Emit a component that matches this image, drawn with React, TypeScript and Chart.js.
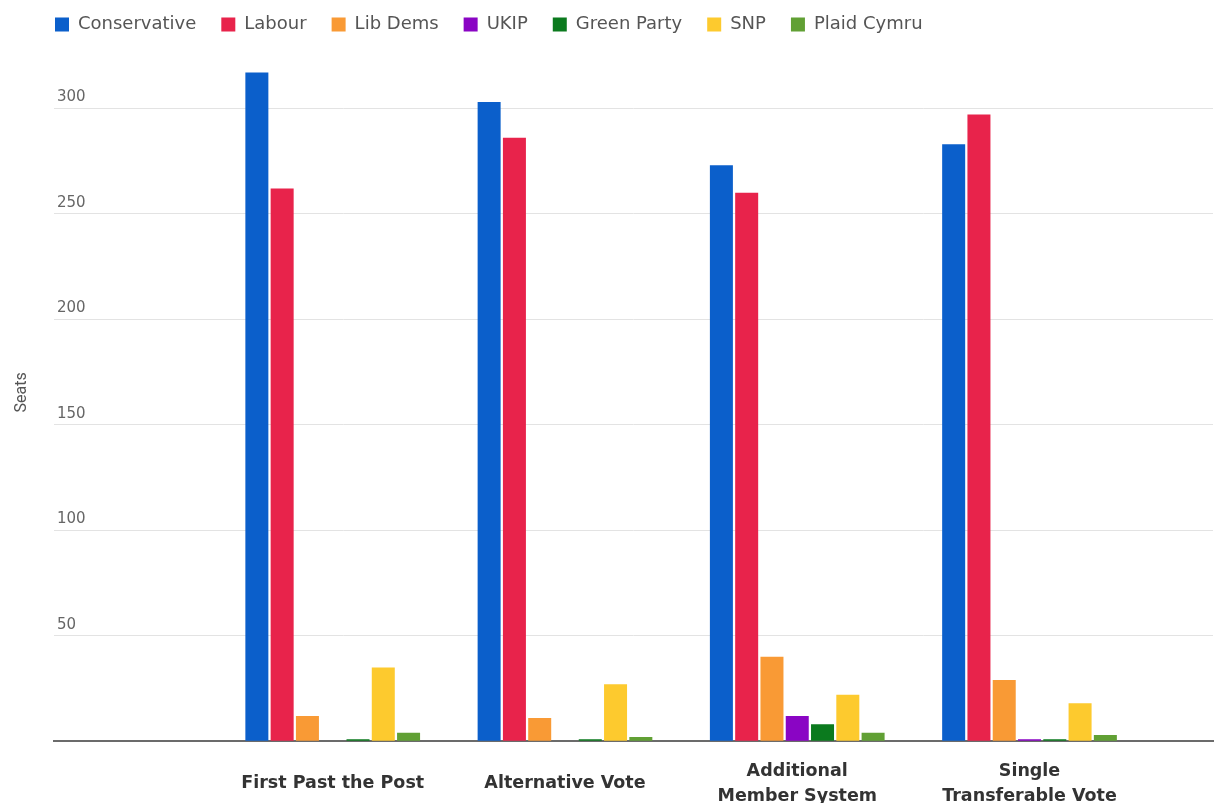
import React, { useEffect, useRef } from 'react';
import { Chart, registerables } from 'chart.js';

Chart.register(...registerables);

// Voting systems (categories) and their tick labels (split into lines)
const systems = ['First Past the Post', 'Alternative Vote', 'Additional Member System', 'Single Transferable Vote'];
const systemTickLabels = [
  ['First Past the Post'],
  ['Alternative Vote'],
  ['Additional', 'Member System'],
  ['Single', 'Transferable Vote'],
];

// Parties (series)
const parties = ['Conservative', 'Labour', 'Lib Dems', 'UKIP', 'Green Party', 'SNP', 'Plaid Cymru'];
const partyColors = ['#0b5fcb', '#e8234b', '#f99a35', '#8a05c4', '#0b7a1e', '#fdca2e', '#61a034'];

// Seats per system for each party
const conservative = [317, 303, 273, 283];
const labour = [262, 286, 260, 297];
const libDems = [12, 11, 40, 29];
const ukip = [0, 0, 12, 1];
const greenParty = [1, 1, 8, 1];
const snp = [35, 27, 22, 18];
const plaidCymru = [4, 2, 4, 3];

const seriesValues = [conservative, labour, libDems, ukip, greenParty, snp, plaidCymru];

// Y-axis ticks
const yTickStep = 50;
const yTickMax = 300;

export default function App() {
  const canvasRef = useRef<HTMLCanvasElement | null>(null);

  useEffect(() => {
    if (!canvasRef.current) return;
    const datasets = parties.map((p, k) => ({
      label: p,
      data: seriesValues[k].map((v, i) => ({ x: i, y: v })),
      backgroundColor: partyColors[k],
      borderWidth: 0,
    }));

    const chart = new Chart(canvasRef.current, {
      type: 'bar',
      data: { datasets },
      options: {
        responsive: true,
        maintainAspectRatio: false,
        animation: false,
        layout: { padding: { top: -9.5, left: 30, right: 3, bottom: -49 } },
        datasets: { bar: { categoryPercentage: 0.762, barPercentage: 0.91 } },
        plugins: {
          legend: {
            position: 'top',
            align: 'start',
            labels: {
              boxWidth: 14,
              boxHeight: 14,
              padding: 25,
              color: '#555',
              font: { family: 'DejaVu Sans', size: 18 },
            },
          },
          tooltip: { enabled: false },
        },
        scales: {
          x: {
            type: 'linear',
            offset: false,
            min: -1.2,
            max: 3.79,
            afterBuildTicks: (scale: any) => {
              scale.ticks = systems.map((_, i) => ({ value: i }));
            },
            ticks: {
              autoSkip: false,
              maxRotation: 0,
              minRotation: 0,
              padding: 30,
              crossAlign: 'center',
              color: '#333',
              font: { family: 'DejaVu Sans', weight: 'bold', size: 17.5, lineHeight: 1.45 },
              callback: (v: any) => systemTickLabels[v as number] ?? '',
            },
            grid: { display: true, drawOnChartArea: false, drawTicks: false, offset: false },
            border: { display: true, color: '#6b6b6b', width: 2 },
          },
          y: {
            type: 'linear',
            min: 0,
            max: 330.7,
            afterBuildTicks: (scale: any) => {
              const t = [] as any[];
              for (let v = 0; v <= yTickMax; v += yTickStep) t.push({ value: v });
              scale.ticks = t;
            },
            ticks: {
              mirror: true,
              padding: 3,
              labelOffset: -11,
              color: '#666',
              font: { family: 'DejaVu Sans', size: 15 },
              callback: (v: any) => (v === 0 ? '' : String(v)),
            },
            grid: {
              drawTicks: false,
              lineWidth: 1,
              color: (ctx: any) => (ctx.tick && ctx.tick.value === 0 ? 'rgba(0,0,0,0)' : '#e3e3e3'),
            },
            border: { display: false },
            title: {
              display: true,
              text: 'Seats',
              color: '#555',
              font: { family: 'Roboto', size: 16 },
              padding: { top: -17.6, bottom: 16.4 },
            },
          },
        },
      } as any,
    });
    return () => chart.destroy();
  }, []);

  return (
    <div style={{ position: 'fixed', left: 0, top: 0, width: 1216, height: 803, background: '#fff' }}>
      <canvas ref={canvasRef} />
    </div>
  );
}
